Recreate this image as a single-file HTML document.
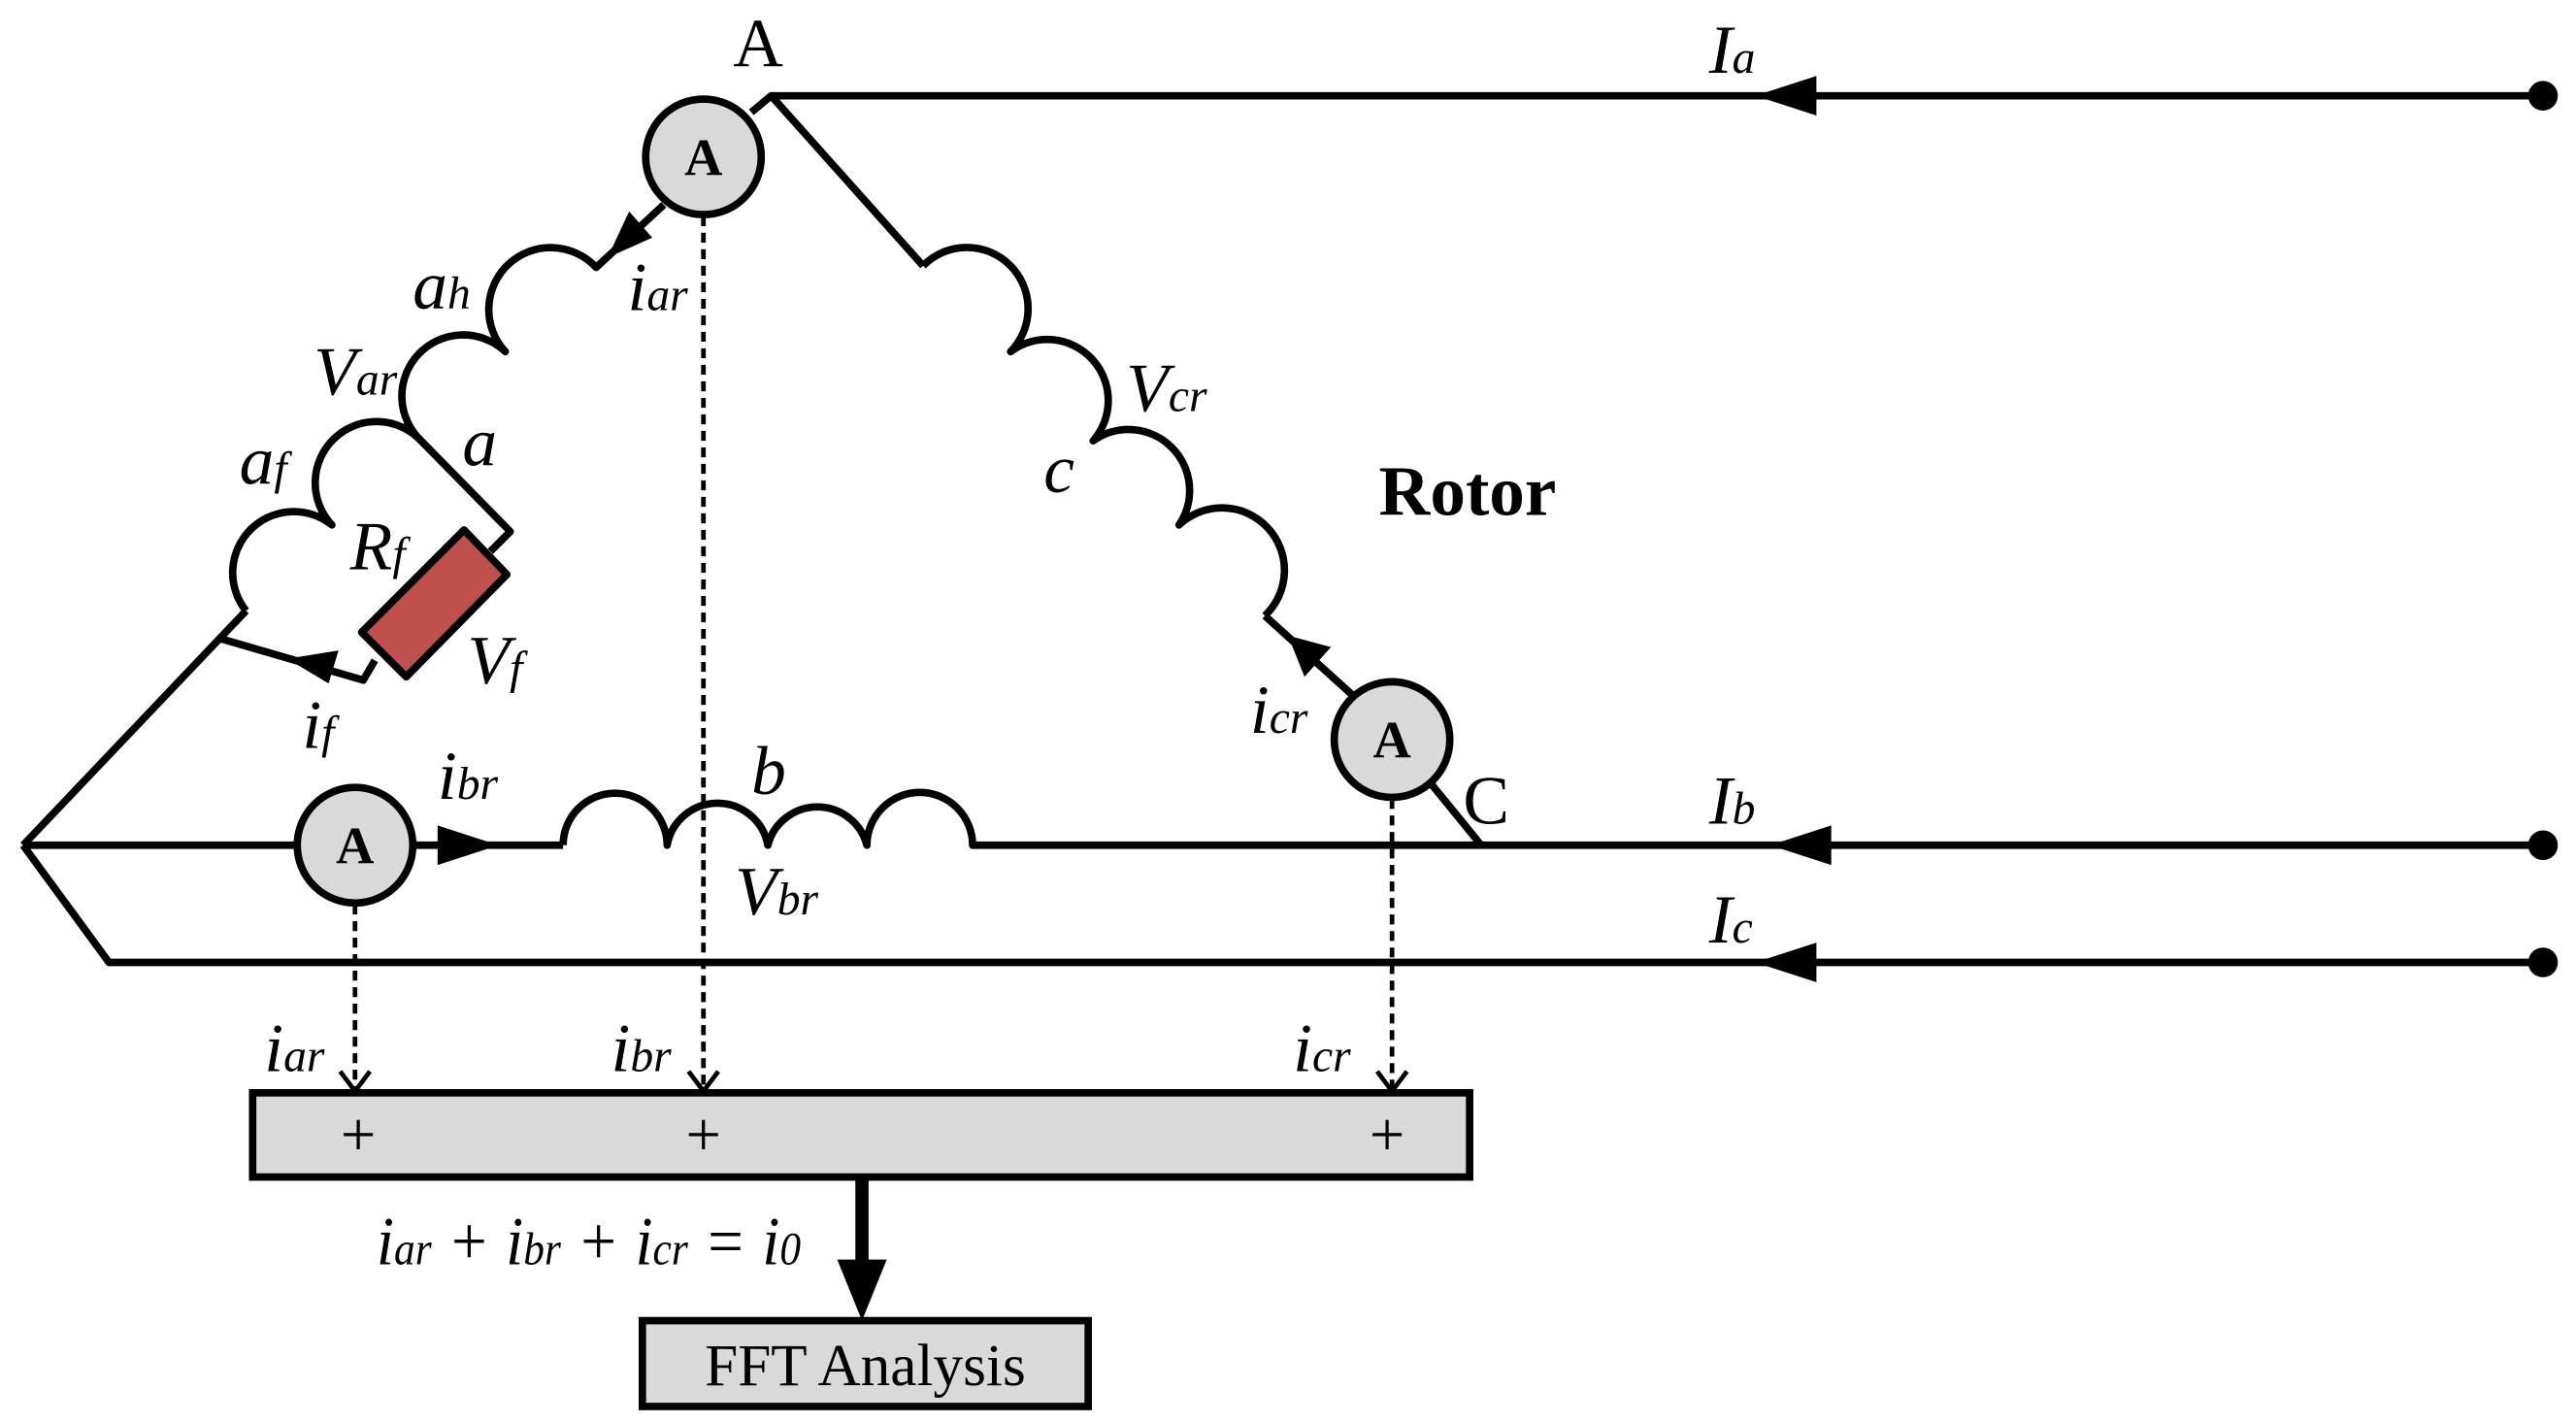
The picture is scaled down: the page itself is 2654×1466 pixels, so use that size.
<!DOCTYPE html>
<html><head><meta charset="utf-8"><style>
html,body{margin:0;padding:0;background:#fff;}
svg{display:block;}
text{font-family:"Liberation Serif",serif;}
.it{font-style:italic;font-size:42px;}
.sub{font-size:28px;}
</style></head><body>
<svg width="2654" height="1466" viewBox="0 0 1560 862" preserveAspectRatio="none" xmlns="http://www.w3.org/2000/svg">
<g fill="none" stroke="#000" stroke-width="4.5" stroke-linejoin="round">
<path d="M455,68 L467,58 L1540,58"/>
<path d="M467,58 L559,161"/>
<path d="M559,161 A37,37 0 0 1 612,213 A37,37 0 0 1 662,267 A37,37 0 0 1 714,318 A37,37 0 0 1 766,373"/>
<path d="M766,373 L819,421"/>
<path d="M866,474 L897,512"/>
<path d="M149,370 A37,37 0 0 1 201,318 A37,37 0 0 1 255,267 A37,37 0 0 1 306,213 A37,37 0 0 1 361,162 L402,124"/>
<path d="M255,267 L309,322 L297,334"/>
<path d="M227,400 L220,412 L134,387"/>
<path d="M14,512 L149,370"/>
<path d="M14,512 L180,512 M250,512 L341,512"/>
<path d="M341,512 A31,31 0 0 1 404,512 A31,31 0 0 1 465,512 A31,31 0 0 1 525,512 A31,31 0 0 1 589,512 L1540,512"/>
<path d="M14,512 L66,583 L1540,583"/>
</g>
<polygon points="281,321 307,348 246,410 219,383" fill="#c0504d" stroke="#000" stroke-width="4.5" stroke-linejoin="round"/>
<g fill="#000">
<polygon points="1063,58 1100,46 1100,70"/>
<polygon points="1072,512 1109,500 1109,524"/>
<polygon points="1063,583 1100,571 1100,595"/>
<polygon points="302,512 265,500 265,524"/>
<polygon points="368,156 395,144 381,128"/>
<polygon points="780,385 806,392 790,410"/>
<polygon points="174,399 205,394 199,414"/>
<circle cx="1540" cy="58" r="9"/>
<circle cx="1540" cy="512" r="9"/>
<circle cx="1540" cy="583" r="9"/>
</g>
<g stroke="#000" stroke-width="2.8" fill="none">
<path d="M426,131 L426,660 M215,548 L215,660 M843,484 L843,660" stroke-dasharray="6,4"/>
<path d="M417,649 L426,661 L435,649 M206,649 L215,661 L224,649 M834,649 L843,661 L852,649"/>
</g>
<g stroke="#000" stroke-width="4.5" fill="#d9d9d9">
<circle cx="426" cy="95" r="35"/>
<circle cx="215" cy="512" r="35"/>
<circle cx="843" cy="448" r="35"/>
</g>
<g font-weight="bold" font-size="32" text-anchor="middle">
<text x="426" y="106">A</text>
<text x="215" y="523">A</text>
<text x="843" y="459">A</text>
</g>
<rect x="153" y="662" width="737" height="51" fill="#d9d9d9" stroke="#000" stroke-width="4.5"/>
<rect x="389" y="800" width="270" height="52" fill="#d9d9d9" stroke="#000" stroke-width="4.5"/>
<path d="M522,713 L522,768" stroke="#000" stroke-width="8"/>
<polygon points="522,800 507,763 537,763" fill="#000"/>
<g font-size="38" text-anchor="middle">
<text x="217" y="700">+</text><text x="426" y="700">+</text><text x="840" y="700">+</text>
</g>
<text x="524" y="839" font-size="36" text-anchor="middle">FFT Analysis</text>
<text x="444" y="40" font-size="42">A</text>
<text x="886" y="499" font-size="42">C</text>
<text x="835" y="312" font-family="Liberation Sans,sans-serif" font-weight="bold" font-size="43">Rotor</text>
<g class="it">
<text x="1035" y="44">I<tspan class="sub">a</tspan></text>
<text x="1035" y="499">I<tspan class="sub">b</tspan></text>
<text x="1035" y="571">I<tspan class="sub">c</tspan></text>
<text x="250" y="187">a<tspan class="sub">h</tspan></text>
<text x="380" y="188">i<tspan class="sub">ar</tspan></text>
<text x="190" y="239">V<tspan class="sub">ar</tspan></text>
<text x="280" y="282">a</text>
<text x="145" y="293">a<tspan class="sub">f</tspan></text>
<text x="632" y="298">c</text>
<text x="682" y="249">V<tspan class="sub">cr</tspan></text>
<text x="212" y="345">R<tspan class="sub">f</tspan></text>
<text x="283" y="414">V<tspan class="sub">f</tspan></text>
<text x="183" y="453">i<tspan class="sub">f</tspan></text>
<text x="757" y="444">i<tspan class="sub">cr</tspan></text>
<text x="265" y="484">i<tspan class="sub">br</tspan></text>
<text x="455" y="481">b</text>
<text x="445" y="554">V<tspan class="sub">br</tspan></text>
<text x="160" y="649">i<tspan class="sub">ar</tspan></text>
<text x="370" y="649">i<tspan class="sub">br</tspan></text>
<text x="783" y="649">i<tspan class="sub">cr</tspan></text>
<text x="228" y="766" xml:space="preserve" textLength="257" lengthAdjust="spacingAndGlyphs">i<tspan class="sub">ar</tspan> + i<tspan class="sub">br</tspan> + i<tspan class="sub">cr</tspan> = i<tspan class="sub">0</tspan></text>
</g>
</svg>
</body></html>
